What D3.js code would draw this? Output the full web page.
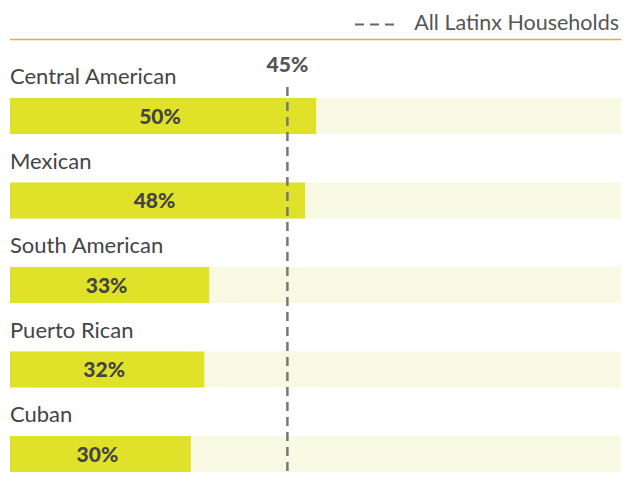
<!DOCTYPE html>
<html><head><meta charset="utf-8">
<script src="https://cdn.jsdelivr.net/npm/d3@7"></script>
<style>body{margin:0;background:#fff}svg{display:block}</style>
</head><body>
<script>
const categories = ["Central American","Mexican","South American","Puerto Rican","Cuban"];
const values = [50.1, 48.3, 32.6, 31.8, 29.6];
const labels = ["50%","48%","33%","32%","30%"];
const refValue = 45.4;
const refLabel = "45%";
const legendLabel = "All Latinx Households";

const W = 629, H = 484;
const svg = d3.select("body").append("svg").attr("width", W).attr("height", H);
const font = "'Source Sans Pro','Lato','Noto Sans',sans-serif";

const x = d3.scaleLinear().domain([0,100]).range([10,621]);
const rowStep = 84.5, firstBar = 98, barH = 36;
const y = d3.scaleBand().domain(categories).range([firstBar, firstBar + rowStep*categories.length]).paddingInner(0).paddingOuter(0);

// legend
svg.append("line").attr("x1",10).attr("x2",621).attr("y1",39.5).attr("y2",39.5)
  .attr("stroke","#f0a54a").attr("stroke-width",1.5);
svg.append("line").attr("x1",355).attr("x2",394).attr("y1",24.5).attr("y2",24.5)
  .attr("stroke","#666").attr("stroke-width",2).attr("stroke-dasharray","9,6");
svg.append("text").attr("x",619).attr("y",30).attr("text-anchor","end")
  .attr("font-family",font).attr("font-size",21.5).attr("fill","#555").text(legendLabel);

const rows = svg.append("g").selectAll("g.row").data(categories).join("g").attr("class","row");
rows.append("rect").attr("x",x(0)).attr("y",d=>y(d)).attr("width",x(100)-x(0)).attr("height",barH).attr("fill","#f7f9e2");
rows.append("rect").attr("x",x(0)).attr("y",d=>y(d)).attr("width",(d,i)=>x(values[i])-x(0)).attr("height",barH).attr("fill","#e0e22a");
rows.append("text").attr("x",10).attr("y",d=>y(d)-14).attr("font-family",font).attr("font-size",22).attr("fill","#444").text(d=>d);
rows.append("text").attr("x",(d,i)=>(x(0)+x(values[i]))/2 - 3).attr("y",d=>y(d)+25.5).attr("text-anchor","middle")
  .attr("font-family",font).attr("font-weight","900").attr("font-size",21).attr("fill","#444").text((d,i)=>labels[i]);

// reference line
svg.append("line").attr("x1",x(refValue)).attr("x2",x(refValue)).attr("y1",87).attr("y2",472)
  .attr("stroke","#777").attr("stroke-width",2.5).attr("stroke-dasharray","9,6");
svg.append("text").attr("x",x(refValue)).attr("y",72).attr("text-anchor","middle")
  .attr("font-family",font).attr("font-weight","900").attr("font-size",21).attr("fill","#555").text(refLabel);
</script>
</body></html>
